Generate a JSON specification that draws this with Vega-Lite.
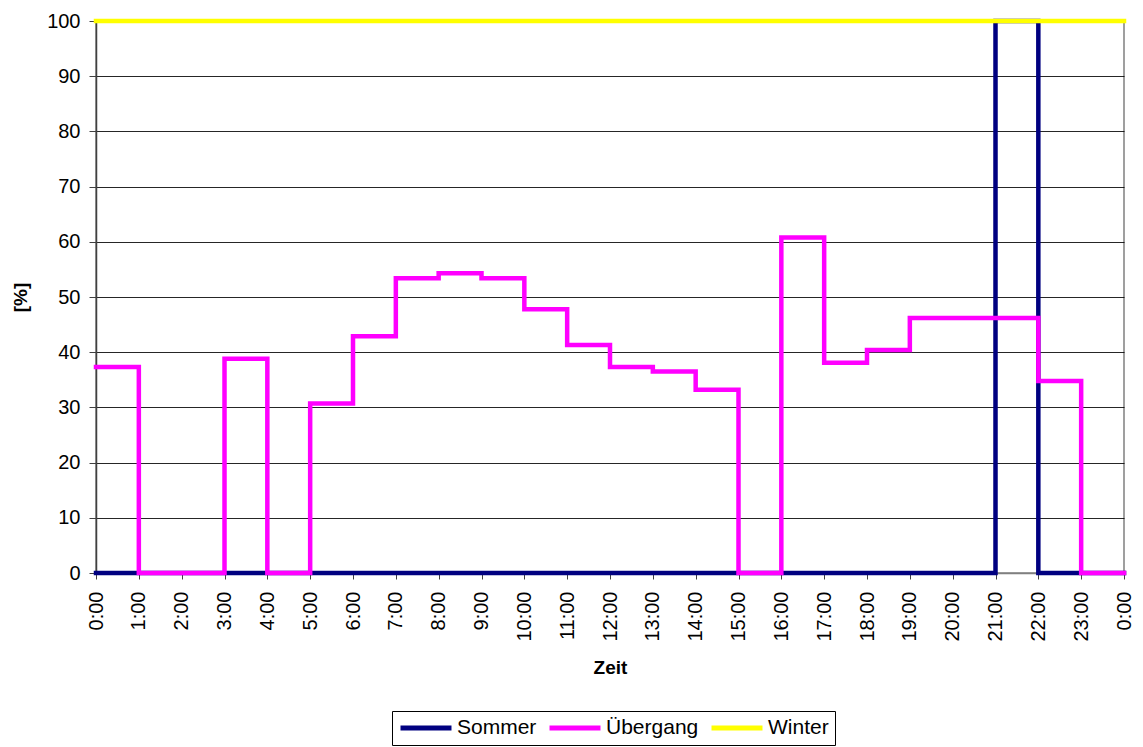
{
  "$schema": "https://vega.github.io/schema/vega-lite/v6.json",
  "autosize": {"type": "none"},
  "width": 1028,
  "height": 552,
  "padding": {"left": 96, "top": 21, "right": 19, "bottom": 174},
  "background": "white",
  "config": {
    "font": "Liberation Sans",
    "view": {"stroke": "#808080", "strokeWidth": 1.5},
    "axis": {"labelFont": "Liberation Sans", "titleFont": "Liberation Sans", "labelColor": "black", "titleColor": "black"}
  },
  "data": {"values": [
    {"t": 0, "s": "Sommer", "v": 0}, {"t": 1, "s": "Sommer", "v": 0}, {"t": 2, "s": "Sommer", "v": 0}, {"t": 3, "s": "Sommer", "v": 0},
    {"t": 4, "s": "Sommer", "v": 0}, {"t": 5, "s": "Sommer", "v": 0}, {"t": 6, "s": "Sommer", "v": 0}, {"t": 7, "s": "Sommer", "v": 0},
    {"t": 8, "s": "Sommer", "v": 0}, {"t": 9, "s": "Sommer", "v": 0}, {"t": 10, "s": "Sommer", "v": 0}, {"t": 11, "s": "Sommer", "v": 0},
    {"t": 12, "s": "Sommer", "v": 0}, {"t": 13, "s": "Sommer", "v": 0}, {"t": 14, "s": "Sommer", "v": 0}, {"t": 15, "s": "Sommer", "v": 0},
    {"t": 16, "s": "Sommer", "v": 0}, {"t": 17, "s": "Sommer", "v": 0}, {"t": 18, "s": "Sommer", "v": 0}, {"t": 19, "s": "Sommer", "v": 0},
    {"t": 20, "s": "Sommer", "v": 0}, {"t": 21, "s": "Sommer", "v": 100}, {"t": 22, "s": "Sommer", "v": 0}, {"t": 23, "s": "Sommer", "v": 0},
    {"t": 24, "s": "Sommer", "v": 0},
    {"t": 0, "s": "Übergang", "v": 37.3}, {"t": 1, "s": "Übergang", "v": 0}, {"t": 2, "s": "Übergang", "v": 0}, {"t": 3, "s": "Übergang", "v": 38.8},
    {"t": 4, "s": "Übergang", "v": 0}, {"t": 5, "s": "Übergang", "v": 30.7}, {"t": 6, "s": "Übergang", "v": 42.9}, {"t": 7, "s": "Übergang", "v": 53.4},
    {"t": 8, "s": "Übergang", "v": 54.3}, {"t": 9, "s": "Übergang", "v": 53.4}, {"t": 10, "s": "Übergang", "v": 47.8}, {"t": 11, "s": "Übergang", "v": 41.3},
    {"t": 12, "s": "Übergang", "v": 37.3}, {"t": 13, "s": "Übergang", "v": 36.5}, {"t": 14, "s": "Übergang", "v": 33.2}, {"t": 15, "s": "Übergang", "v": 0},
    {"t": 16, "s": "Übergang", "v": 60.8}, {"t": 17, "s": "Übergang", "v": 38.1}, {"t": 18, "s": "Übergang", "v": 40.4}, {"t": 19, "s": "Übergang", "v": 46.2},
    {"t": 20, "s": "Übergang", "v": 46.2}, {"t": 21, "s": "Übergang", "v": 46.2}, {"t": 22, "s": "Übergang", "v": 34.8}, {"t": 23, "s": "Übergang", "v": 0},
    {"t": 24, "s": "Übergang", "v": 0},
    {"t": 0, "s": "Winter", "v": 100}, {"t": 1, "s": "Winter", "v": 100}, {"t": 2, "s": "Winter", "v": 100}, {"t": 3, "s": "Winter", "v": 100},
    {"t": 4, "s": "Winter", "v": 100}, {"t": 5, "s": "Winter", "v": 100}, {"t": 6, "s": "Winter", "v": 100}, {"t": 7, "s": "Winter", "v": 100},
    {"t": 8, "s": "Winter", "v": 100}, {"t": 9, "s": "Winter", "v": 100}, {"t": 10, "s": "Winter", "v": 100}, {"t": 11, "s": "Winter", "v": 100},
    {"t": 12, "s": "Winter", "v": 100}, {"t": 13, "s": "Winter", "v": 100}, {"t": 14, "s": "Winter", "v": 100}, {"t": 15, "s": "Winter", "v": 100},
    {"t": 16, "s": "Winter", "v": 100}, {"t": 17, "s": "Winter", "v": 100}, {"t": 18, "s": "Winter", "v": 100}, {"t": 19, "s": "Winter", "v": 100},
    {"t": 20, "s": "Winter", "v": 100}, {"t": 21, "s": "Winter", "v": 100}, {"t": 22, "s": "Winter", "v": 100}, {"t": 23, "s": "Winter", "v": 100},
    {"t": 24, "s": "Winter", "v": 100}
  ]},
  "mark": {"type": "line", "interpolate": "step-after", "strokeWidth": 4.5, "strokeCap": "square", "strokeJoin": "miter"},
  "encoding": {
    "x": {
      "field": "t", "type": "quantitative",
      "scale": {"domain": [0, 24], "nice": false, "zero": false},
      "axis": {
        "title": "Zeit", "titleFontSize": 19, "titleFontWeight": "bold", "titlePadding": 17,
        "values": [0,1,2,3,4,5,6,7,8,9,10,11,12,13,14,15,16,17,18,19,20,21,22,23,24],
        "labelExpr": "(datum.value % 24) + ':00'",
        "labelAngle": -90, "labelAlign": "right", "labelBaseline": "middle", "labelFontSize": 20, "labelPadding": 12,
        "labelOverlap": false, "labelFlush": false,
        "grid": false, "domainColor": "#808080", "domainWidth": 1.5, "tickColor": "#404040", "tickSize": 6, "tickWidth": 1
      }
    },
    "y": {
      "field": "v", "type": "quantitative",
      "scale": {"domain": [0, 100], "nice": false},
      "axis": {
        "title": "[%]", "titleFontSize": 19, "titleFontWeight": "bold", "titlePadding": 16,
        "values": [0,10,20,30,40,50,60,70,80,90,100],
        "labelFontSize": 20, "labelPadding": 9,
        "grid": true, "gridColor": "#000000", "gridWidth": 1, "gridOpacity": 0.85,
        "domainColor": "#404040", "domainWidth": 1.5, "tickColor": "#404040", "tickSize": 7, "tickWidth": 1
      }
    },
    "color": {
      "field": "s", "type": "nominal",
      "scale": {"domain": ["Sommer", "Übergang", "Winter"], "range": ["#000080", "#FF00FF", "#FFFF00"]},
      "legend": {
        "title": null, "orient": "none", "legendX": 296, "legendY": 690, "direction": "horizontal",
        "symbolType": "stroke", "symbolSize": 2600, "symbolStrokeWidth": 5, "clipHeight": 22,
        "labelFontSize": 21, "labelColor": "black", "labelOffset": 3, "columnPadding": 10,
        "strokeColor": "#000000", "padding": 6, "fillColor": "white"
      }
    },
    "order": {"field": "t", "type": "quantitative"}
  }
}
